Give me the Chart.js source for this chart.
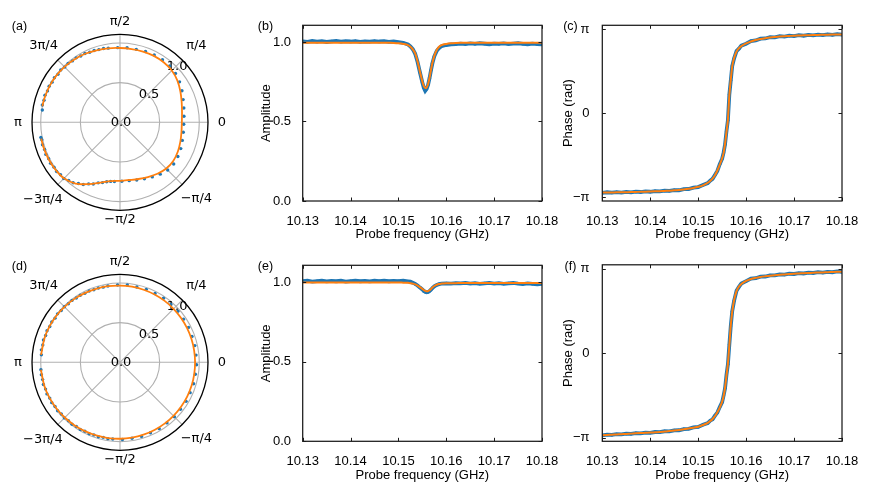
<!DOCTYPE html>
<html>
<head>
<meta charset="utf-8">
<script src="https://cdn.jsdelivr.net/npm/chart.js@4.4.1/dist/chart.umd.min.js"></script>
<style>
  body { margin: 0; background: #fff; }
  #fig { position: relative; width: 871px; height: 490px; overflow: hidden; font-family: 'Liberation Sans', Arial, sans-serif; }
  #fig canvas { position: absolute; }
  .tag { position: absolute; font-size: 12.5px; line-height: 1; transform: translate(-50%, -50%); color: #000; }
</style>
</head>
<body>
<div id="fig">
  <canvas id="chart-a" width="240" height="240" style="left:0px;top:0px"></canvas>
  <canvas id="chart-b" width="330" height="245" style="left:240px;top:0px"></canvas>
  <canvas id="chart-c" width="323" height="245" style="left:548px;top:0px"></canvas>
  <canvas id="chart-d" width="240" height="240" style="left:0px;top:240px"></canvas>
  <canvas id="chart-e" width="330" height="245" style="left:240px;top:245px"></canvas>
  <canvas id="chart-f" width="323" height="245" style="left:548px;top:245px"></canvas>
  <div class="tag" style="left:19.5px;top:26px">(a)</div>
  <div class="tag" style="left:265.5px;top:26px">(b)</div>
  <div class="tag" style="left:570.5px;top:26px">(c)</div>
  <div class="tag" style="left:19.5px;top:266px">(d)</div>
  <div class="tag" style="left:265.5px;top:266px">(e)</div>
  <div class="tag" style="left:570.5px;top:266px">(f)</div>
</div>
<script>
// 1. 데이터 (주파수 GHz, 위상은 π 단위)
const freq = [
  10.130, 10.131, 10.132, 10.133, 10.134, 10.135, 10.136, 10.137, 10.138, 10.139,
  10.140, 10.141, 10.142, 10.143, 10.144, 10.145, 10.146, 10.147, 10.148, 10.149,
  10.150, 10.151, 10.152, 10.1525, 10.153, 10.1535, 10.154, 10.1545, 10.155,
  10.1553, 10.1556, 10.1559, 10.1562, 10.1565, 10.1568, 10.1571,
  10.1575, 10.158, 10.1585, 10.159, 10.160, 10.161, 10.162,
  10.163, 10.164, 10.165, 10.166, 10.167, 10.168, 10.169, 10.170, 10.171,
  10.172, 10.173, 10.174, 10.175, 10.176, 10.177, 10.178, 10.179, 10.180
];

// (b) 진폭
const ampDataB = [
  1.004, 1.001, 1.006, 1.002, 1.005, 1.000, 1.004, 1.007, 1.002, 1.005,
  1.003, 1.006, 1.001, 1.004, 1.002, 1.006, 1.003, 1.005, 1.001, 1.003,
  0.999, 0.995, 0.984, 0.972, 0.955, 0.926, 0.874, 0.808, 0.745,
  0.712, 0.693, 0.705, 0.731, 0.772, 0.822, 0.866,
  0.910, 0.944, 0.962, 0.973, 0.981, 0.985, 0.987,
  0.990, 0.987, 0.991, 0.988, 0.992, 0.989, 0.986, 0.990, 0.988,
  0.991, 0.987, 0.990, 0.992, 0.988, 0.986, 0.990, 0.987, 0.985
];
const ampFitB = [
  0.996, 0.996, 0.996, 0.996, 0.996, 0.996, 0.996, 0.996, 0.996, 0.996,
  0.996, 0.996, 0.996, 0.996, 0.996, 0.996, 0.996, 0.996, 0.995, 0.994,
  0.992, 0.988, 0.980, 0.970, 0.954, 0.929, 0.878, 0.813, 0.752,
  0.724, 0.710, 0.715, 0.736, 0.775, 0.825, 0.868,
  0.913, 0.950, 0.970, 0.980, 0.988, 0.992, 0.994,
  0.995, 0.995, 0.995, 0.995, 0.995, 0.995, 0.995, 0.995, 0.995,
  0.995, 0.995, 0.995, 0.995, 0.995, 0.995, 0.995, 0.995, 0.995
];

// (c) 위상 / π
const phaseDataC = [
  -0.948, -0.941, -0.946, -0.939, -0.944, -0.937, -0.942, -0.934, -0.938, -0.931,
  -0.935, -0.927, -0.931, -0.922, -0.925, -0.915, -0.917, -0.904, -0.902, -0.886,
  -0.879, -0.855, -0.831, -0.802, -0.781, -0.734, -0.686, -0.606, -0.541,
  -0.468, -0.372, -0.216, -0.083, 0.224, 0.392, 0.563,
  0.654, 0.741, 0.770, 0.806, 0.829, 0.860, 0.868,
  0.889, 0.891, 0.907, 0.905, 0.918, 0.914, 0.925, 0.920, 0.930,
  0.924, 0.934, 0.928, 0.937, 0.931, 0.940, 0.933, 0.942, 0.936
];
const phaseFitC = [
  -0.945, -0.944, -0.943, -0.942, -0.941, -0.940, -0.939, -0.937, -0.935, -0.934,
  -0.932, -0.930, -0.928, -0.925, -0.922, -0.918, -0.914, -0.907, -0.899, -0.889,
  -0.876, -0.858, -0.828, -0.806, -0.778, -0.738, -0.682, -0.612, -0.535,
  -0.475, -0.365, -0.225, -0.075, 0.215, 0.400, 0.555,
  0.660, 0.735, 0.775, 0.800, 0.833, 0.855, 0.872,
  0.885, 0.895, 0.903, 0.909, 0.914, 0.918, 0.921, 0.924, 0.926,
  0.928, 0.930, 0.932, 0.933, 0.935, 0.936, 0.937, 0.938, 0.939
];

// (e) 진폭
const ampDataE = [
  1.005, 1.008, 1.003, 1.006, 1.009, 1.004, 1.007, 1.005, 1.008, 1.003,
  1.006, 1.009, 1.005, 1.007, 1.004, 1.008, 1.006, 1.009, 1.005, 1.007,
  1.006, 1.008, 1.004, 1.002, 0.996, 0.988, 0.978, 0.965, 0.953,
  0.944, 0.938, 0.935, 0.937, 0.943, 0.952, 0.962,
  0.973, 0.982, 0.987, 0.990, 0.992, 0.990, 0.993,
  0.991, 0.994, 0.990, 0.993, 0.989, 0.992, 0.995, 0.990, 0.993,
  0.989, 0.992, 0.994, 0.990, 0.987, 0.991, 0.988, 0.986, 0.989
];
const ampFitE = [
  0.997, 0.997, 0.997, 0.997, 0.997, 0.997, 0.997, 0.997, 0.997, 0.997,
  0.997, 0.997, 0.997, 0.997, 0.997, 0.997, 0.997, 0.997, 0.997, 0.997,
  0.997, 0.996, 0.995, 0.993, 0.990, 0.985, 0.978, 0.968, 0.957,
  0.950, 0.945, 0.942, 0.943, 0.948, 0.956, 0.965,
  0.975, 0.983, 0.988, 0.990, 0.992, 0.993, 0.993,
  0.994, 0.994, 0.994, 0.994, 0.994, 0.994, 0.994, 0.994, 0.994,
  0.994, 0.994, 0.994, 0.994, 0.994, 0.994, 0.994, 0.994, 0.994
];

// (f) 위상 / π
const phaseDataF = [
  -0.975, -0.966, -0.969, -0.960, -0.963, -0.954, -0.957, -0.948, -0.951, -0.942,
  -0.945, -0.935, -0.937, -0.926, -0.927, -0.915, -0.914, -0.900, -0.897, -0.881,
  -0.875, -0.849, -0.829, -0.801, -0.784, -0.741, -0.704, -0.639, -0.581,
  -0.503, -0.417, -0.258, -0.132, 0.102, 0.323, 0.497,
  0.624, 0.741, 0.786, 0.825, 0.854, 0.884, 0.889,
  0.908, 0.909, 0.923, 0.922, 0.934, 0.931, 0.942, 0.939, 0.949,
  0.945, 0.955, 0.951, 0.960, 0.955, 0.965, 0.960, 0.969, 0.964
];
const phaseFitF = [
  -0.972, -0.969, -0.966, -0.963, -0.960, -0.957, -0.954, -0.951, -0.948, -0.945,
  -0.942, -0.938, -0.934, -0.929, -0.924, -0.918, -0.911, -0.903, -0.894, -0.884,
  -0.872, -0.852, -0.826, -0.805, -0.780, -0.745, -0.700, -0.645, -0.575,
  -0.510, -0.410, -0.265, -0.125, 0.095, 0.330, 0.490,
  0.630, 0.735, 0.790, 0.820, 0.858, 0.879, 0.893,
  0.904, 0.912, 0.919, 0.925, 0.930, 0.934, 0.938, 0.942, 0.945,
  0.948, 0.951, 0.954, 0.956, 0.958, 0.961, 0.963, 0.965, 0.967
];

// (a) 극좌표: 각도 / π, 반지름
const thetaDataA = [
  0.95, 0.93, 0.91, 0.89, 0.87, 0.85, 0.83, 0.81, 0.79, 0.77, 0.75, 0.73, 0.71, 0.69, 0.67, 0.65, 0.63, 0.61, 0.59, 0.57, 0.55,
  0.51, 0.47, 0.43, 0.39, 0.35, 0.31, 0.27, 0.23, 0.19, 0.15, 0.11, 0.07, 0.03, -0.01, -0.05, -0.09, -0.13, -0.17, -0.21, -0.25, -0.29, -0.33, -0.37, -0.41, -0.45, -0.49, -0.53,
  -0.55, -0.57, -0.59, -0.61, -0.63, -0.65, -0.67, -0.69, -0.71, -0.73, -0.75, -0.77, -0.79, -0.81, -0.83, -0.85, -0.87, -0.89, -0.91, -0.93, -0.94
];
const rDataA = [
  0.992, 1.004, 0.998, 1.006, 0.997, 1.003, 0.995, 1.001, 0.990, 0.997, 0.985, 0.990, 0.980, 0.983, 0.972, 0.975, 0.962, 0.963, 0.955, 0.953, 0.947,
  0.942, 0.945, 0.943, 0.950, 0.952, 0.953, 0.948, 0.933, 0.908, 0.877, 0.846, 0.825, 0.810, 0.804, 0.808, 0.818, 0.835, 0.848, 0.857, 0.850, 0.828, 0.800, 0.776, 0.758, 0.745, 0.743, 0.750,
  0.755, 0.768, 0.792, 0.812, 0.848, 0.872, 0.911, 0.933, 0.965, 0.978, 1.003, 1.000, 1.012, 1.006, 1.017, 1.010, 1.019, 1.011, 1.018, 1.011, 1.016
];
const thetaFitA = [
  0.935, 0.90, 0.85, 0.80, 0.75, 0.70, 0.65, 0.60, 0.55, 0.50, 0.45, 0.40, 0.35, 0.30, 0.25, 0.20, 0.15, 0.10, 0.05, 0.00,
  -0.05, -0.10, -0.15, -0.20, -0.25, -0.30, -0.35, -0.40, -0.45, -0.50, -0.55, -0.60, -0.65, -0.70, -0.75, -0.80, -0.85, -0.90, -0.935
];
const rFitA = [
  1.000, 1.000, 1.000, 0.996, 0.990, 0.980, 0.970, 0.955, 0.945, 0.937, 0.935, 0.938, 0.940, 0.936, 0.924, 0.895, 0.855, 0.818, 0.792, 0.780,
  0.785, 0.800, 0.818, 0.830, 0.825, 0.803, 0.775, 0.752, 0.737, 0.738, 0.750, 0.800, 0.875, 0.955, 1.000, 1.010, 1.014, 1.015, 1.015
];

// (d) 극좌표
const thetaDataD = [
  0.97, 0.95, 0.93, 0.91, 0.89, 0.87, 0.85, 0.83, 0.81, 0.79, 0.77, 0.75, 0.73, 0.71, 0.69, 0.67, 0.65, 0.63, 0.61, 0.59, 0.57, 0.55,
  0.51, 0.47, 0.43, 0.39, 0.35, 0.31, 0.27, 0.23, 0.19, 0.15, 0.11, 0.07, 0.03, -0.01, -0.05, -0.09, -0.13, -0.17, -0.21, -0.25, -0.29, -0.33, -0.37, -0.41, -0.45, -0.49, -0.53,
  -0.55, -0.57, -0.59, -0.61, -0.63, -0.65, -0.67, -0.69, -0.71, -0.73, -0.75, -0.77, -0.79, -0.81, -0.83, -0.85, -0.87, -0.89, -0.91, -0.93, -0.95, -0.97
];
const rDataD = [
  0.996, 1.004, 0.998, 1.005, 0.997, 1.003, 0.994, 1.000, 0.991, 0.997, 0.988, 0.992, 0.984, 0.988, 0.980, 0.983, 0.976, 0.979, 0.973, 0.976, 0.971, 0.974,
  0.975, 0.979, 0.974, 0.978, 0.973, 0.976, 0.971, 0.973, 0.968, 0.970, 0.965, 0.967, 0.963, 0.966, 0.962, 0.967, 0.964, 0.968, 0.965, 0.970, 0.967, 0.972, 0.968, 0.973, 0.970, 0.975, 0.972,
  0.975, 0.970, 0.978, 0.973, 0.981, 0.976, 0.984, 0.979, 0.988, 0.983, 0.992, 0.987, 0.996, 0.991, 1.000, 0.995, 1.004, 0.998, 1.006, 1.000, 1.004, 1.002
];
const thetaFitD = [
  0.97, 0.90, 0.85, 0.80, 0.75, 0.70, 0.65, 0.60, 0.55, 0.50, 0.45, 0.40, 0.35, 0.30, 0.25, 0.20, 0.15, 0.10, 0.05, 0.00,
  -0.05, -0.10, -0.15, -0.20, -0.25, -0.30, -0.35, -0.40, -0.45, -0.50, -0.55, -0.60, -0.65, -0.70, -0.75, -0.80, -0.85, -0.90, -0.97
];
const rFitD = [
  1.000, 1.000, 0.998, 0.995, 0.990, 0.985, 0.980, 0.975, 0.972, 0.968, 0.965, 0.962, 0.960, 0.958, 0.955, 0.952, 0.950, 0.948, 0.947, 0.947,
  0.948, 0.950, 0.951, 0.952, 0.954, 0.956, 0.958, 0.960, 0.962, 0.964, 0.967, 0.970, 0.975, 0.980, 0.985, 0.990, 0.995, 1.000, 1.002
];

// 눈금
const freqTicks = [10.13, 10.14, 10.15, 10.16, 10.17, 10.18];
const ampTicks = [0, 0.5, 1.0];
const phaseTicks = [-1, 0, 1];
const phaseTickLabels = ['−π', '0', 'π'];
const ringTicks = [0.0, 0.5, 1.0];
const thetaTicks = [0, 0.25, 0.5, 0.75, 1, -0.75, -0.5, -0.25];
const thetaTickLabels = ['0', 'π/4', 'π/2', '3π/4', 'π', '−3π/4', '−π/2', '−π/4'];
const thetaLabelDist = [102, 108, 101, 108, 102, 109, 97, 108];

// 2. 스타일
const BLUE = '#1f77b4';
const ORANGE = '#ff7f0e';
const AX_FONT = { family: "'Liberation Sans', Arial, sans-serif", size: 13 };
const POLAR_FONT = "13px 'DejaVu Sans', sans-serif";
const R_MAX = 1.11;

const pts = (xs, ys) => xs.map((x, i) => ({ x: x, y: ys[i] }));
const polarPts = (th, r) => th.map((t, i) => ({ x: r[i] * Math.cos(t * Math.PI), y: r[i] * Math.sin(t * Math.PI) }));

// 3. 테두리 + 안쪽 눈금 플러그인
const frameTicks = {
  id: 'frameTicks',
  afterDraw(chart) {
    const { ctx, chartArea: a, scales: { x, y } } = chart;
    ctx.save();
    ctx.strokeStyle = '#1a1a1a';
    ctx.lineWidth = 1;
    ctx.beginPath();
    x.ticks.forEach(t => {
      const px = Math.round(x.getPixelForValue(t.value)) + 0.5;
      ctx.moveTo(px, a.bottom); ctx.lineTo(px, a.bottom - 3.5);
      ctx.moveTo(px, a.top); ctx.lineTo(px, a.top + 3.5);
    });
    y.ticks.forEach(t => {
      const py = Math.round(y.getPixelForValue(t.value)) + 0.5;
      ctx.moveTo(a.left, py); ctx.lineTo(a.left + 3.5, py);
      ctx.moveTo(a.right, py); ctx.lineTo(a.right - 3.5, py);
    });
    ctx.stroke();
    ctx.lineWidth = 1.25;
    ctx.strokeRect(a.left, a.top, a.right - a.left, a.bottom - a.top);
    ctx.restore();
  }
};

// 극좌표 격자 플러그인
const polarFrame = {
  id: 'polarFrame',
  beforeDatasetsDraw(chart) {
    const { ctx, scales: { x, y } } = chart;
    const cx = x.getPixelForValue(0), cy = y.getPixelForValue(0);
    const unit = x.getPixelForValue(1) - cx;
    const R = x.getPixelForValue(R_MAX) - cx;
    ctx.save();
    ctx.strokeStyle = '#b0b0b0';
    ctx.lineWidth = 1.1;
    ringTicks.forEach(r => {
      if (r <= 0) return;
      ctx.beginPath(); ctx.arc(cx, cy, r * unit, 0, 2 * Math.PI); ctx.stroke();
    });
    thetaTicks.forEach(t => {
      ctx.beginPath();
      ctx.moveTo(cx, cy);
      ctx.lineTo(cx + R * Math.cos(t * Math.PI), cy - R * Math.sin(t * Math.PI));
      ctx.stroke();
    });
    ctx.fillStyle = '#000';
    ctx.font = POLAR_FONT;
    ctx.textAlign = 'center';
    ctx.textBaseline = 'middle';
    ringTicks.forEach(r => {
      ctx.fillText(r.toFixed(1), cx + r * unit * Math.SQRT1_2 + 1, cy - r * unit * Math.SQRT1_2);
    });
    ctx.restore();
  },
  afterDraw(chart) {
    const { ctx, scales: { x, y } } = chart;
    const cx = x.getPixelForValue(0), cy = y.getPixelForValue(0);
    const R = x.getPixelForValue(R_MAX) - cx;
    ctx.save();
    ctx.strokeStyle = '#000';
    ctx.lineWidth = 1.3;
    ctx.beginPath(); ctx.arc(cx, cy, R, 0, 2 * Math.PI); ctx.stroke();
    ctx.fillStyle = '#000';
    ctx.font = POLAR_FONT;
    ctx.textAlign = 'center';
    ctx.textBaseline = 'middle';
    thetaTicks.forEach((t, i) => {
      const d = thetaLabelDist[i];
      ctx.fillText(thetaTickLabels[i], cx + d * Math.cos(t * Math.PI), cy - d * Math.sin(t * Math.PI));
    });
    ctx.restore();
  }
};

// 4. 차트 생성 함수
function makePolar(id, thD, rD, thF, rF) {
  new Chart(document.getElementById(id), {
    type: 'scatter',
    data: {
      datasets: [
        { data: polarPts(thF, rF), showLine: true, borderColor: ORANGE, borderWidth: 1.8, pointRadius: 0, tension: 0.35, order: 0 },
        { data: polarPts(thD, rD), showLine: false, pointRadius: 1.7, pointBackgroundColor: BLUE, pointBorderWidth: 0, order: 1 }
      ]
    },
    options: {
      responsive: false,
      animation: false,
      events: [],
      layout: { padding: { left: 32, right: 32, top: 34.3, bottom: 29.7 } },
      plugins: { legend: { display: false }, tooltip: { enabled: false } },
      scales: {
        x: { type: 'linear', display: false, min: -R_MAX, max: R_MAX },
        y: { type: 'linear', display: false, min: -R_MAX, max: R_MAX }
      }
    },
    plugins: [polarFrame]
  });
}

function makeSweep(id, g, dataY, fitY, yAxis) {
  new Chart(document.getElementById(id), {
    type: 'scatter',
    data: {
      datasets: [
        { data: pts(freq, fitY), showLine: true, borderColor: ORANGE, borderWidth: 2, pointRadius: 0, cubicInterpolationMode: 'monotone', order: 0 },
        { data: pts(freq, dataY), showLine: true, borderColor: BLUE, borderWidth: 3.8, pointRadius: 1.5, pointBackgroundColor: BLUE, pointBorderWidth: 0, order: 1 }
      ]
    },
    options: {
      responsive: false,
      animation: false,
      events: [],
      layout: { padding: { left: 0, right: g.right, top: g.top, bottom: 0 } },
      plugins: { legend: { display: false }, tooltip: { enabled: false } },
      scales: {
        x: {
          type: 'linear', min: 10.13, max: 10.18,
          grid: { display: false }, border: { display: false },
          afterBuildTicks: s => { s.ticks = freqTicks.map(v => ({ value: v })); },
          afterFit: s => { s.height = g.xh; },
          ticks: { padding: g.xtickPad, color: '#000', font: AX_FONT, maxRotation: 0, autoSkip: false, callback: v => v.toFixed(2) },
          title: { display: true, text: 'Probe frequency (GHz)', color: '#000', font: AX_FONT, padding: { top: 0, bottom: g.xtitle } }
        },
        y: {
          type: 'linear', min: yAxis.min, max: yAxis.max,
          grid: { display: false }, border: { display: false },
          afterBuildTicks: s => { s.ticks = yAxis.ticks.map(v => ({ value: v })); },
          afterFit: s => { s.width = g.left; },
          ticks: { padding: g.ytickPad, color: '#000', font: AX_FONT, autoSkip: false, callback: yAxis.fmt },
          title: { display: true, text: yAxis.title, color: '#000', font: AX_FONT, padding: { top: g.ytitle, bottom: 0 } }
        }
      }
    },
    plugins: [frameTicks]
  });
}

// 5. 축 설정
const ampAxis = { min: 0, max: 1.105, ticks: ampTicks, fmt: v => v.toFixed(1), title: 'Amplitude' };
const phaseAxis = { min: -1.045, max: 1.048, ticks: phaseTicks, fmt: v => phaseTickLabels[phaseTicks.indexOf(v)], title: 'Phase (rad)' };

const geoAmpTop = { left: 62.7, right: 28, top: 25.3, xh: 44, ytitle: 18.9, ytickPad: 3.7, xtickPad: 5, xtitle: 2.7 };
const geoPhaseTop = { left: 54.3, right: 29, top: 25.3, xh: 44, ytitle: 12.7, ytickPad: 4.8, xtickPad: 5, xtitle: 2.7 };
const geoAmpBot = { left: 62.7, right: 28, top: 20.3, xh: 48.7, ytitle: 18.9, ytickPad: 3.7, xtickPad: 4.2, xtitle: 7.2 };
const geoPhaseBot = { left: 54.3, right: 29, top: 19.8, xh: 48.7, ytitle: 12.7, ytickPad: 4.8, xtickPad: 4.2, xtitle: 7.2 };

// 6. 초기화
makePolar('chart-a', thetaDataA, rDataA, thetaFitA, rFitA);
makeSweep('chart-b', geoAmpTop, ampDataB, ampFitB, ampAxis);
makeSweep('chart-c', geoPhaseTop, phaseDataC, phaseFitC, phaseAxis);
makePolar('chart-d', thetaDataD, rDataD, thetaFitD, rFitD);
makeSweep('chart-e', geoAmpBot, ampDataE, ampFitE, ampAxis);
makeSweep('chart-f', geoPhaseBot, phaseDataF, phaseFitF, phaseAxis);
</script>
</body>
</html>
